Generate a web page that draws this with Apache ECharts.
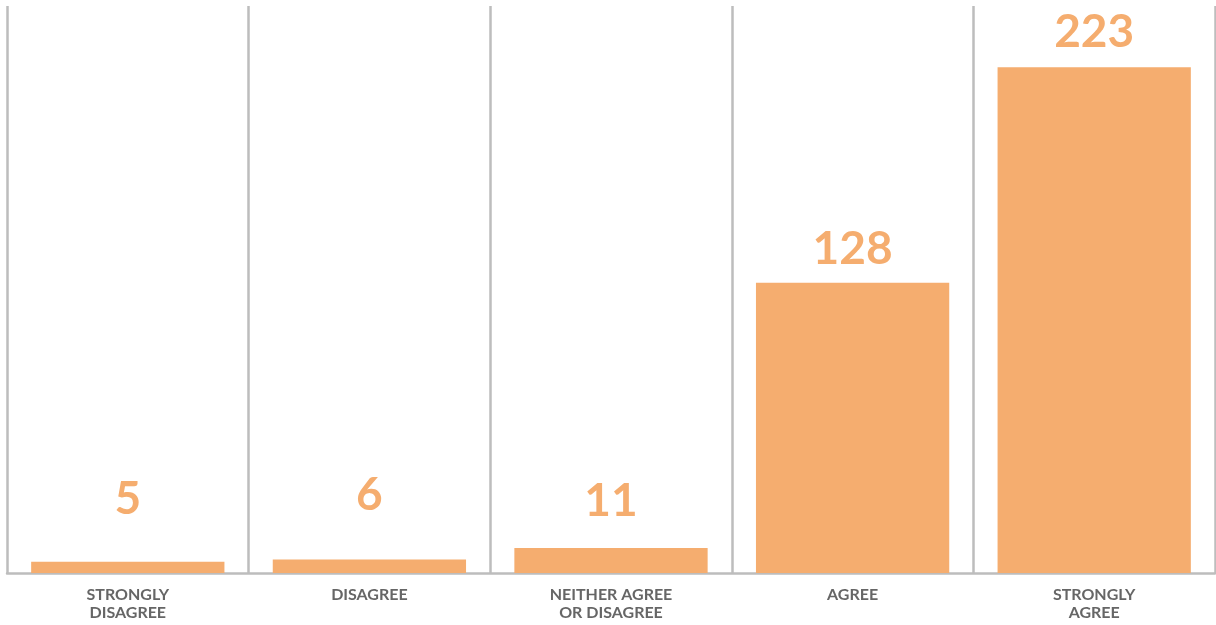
<!DOCTYPE html>
<html>
<head>
<meta charset="utf-8">
<script src="https://cdn.jsdelivr.net/npm/echarts@6/dist/echarts.min.js"></script>
<style>html,body{margin:0;padding:0;background:#fff}#c{width:1216px;height:625px}</style>
</head>
<body>
<div id="c"></div>
<script>
const categories = ['STRONGLY\nDISAGREE', 'DISAGREE', 'NEITHER AGREE\nOR DISAGREE', 'AGREE', 'STRONGLY\nAGREE'];
const values = [5, 6, 11, 128, 223];
// style only: gap between each value label and its bar
const labelGaps = [39, 41, 24, 11, 12];

const chart = echarts.init(document.getElementById('c'));
chart.setOption({
  animation: false,
  grid: { left: 7, right: 1, top: 6, bottom: 52, containLabel: false },
  xAxis: {
    type: 'category',
    data: categories,
    axisLine: { show: true, lineStyle: { color: '#bdbdbd', width: 2.5 } },
    axisTick: { show: false },
    splitLine: { show: true, lineStyle: { color: '#bdbdbd', width: 2.5 } },
    axisLabel: {
      color: '#666666', fontFamily: 'Lato', fontWeight: 'bold', fontSize: 16,
      lineHeight: 18, margin: 13
    }
  },
  yAxis: {
    type: 'value', min: 0, max: 250,
    show: false, splitLine: { show: false }
  },
  series: [{
    type: 'bar',
    data: values.map((v, i) => ({ value: v, label: { distance: labelGaps[i] } })),
    barCategoryGap: '20%',
    itemStyle: { color: '#F5AD6F' },
    label: {
      show: true, position: 'top',
      color: '#F5AD6F', fontFamily: 'Lato', fontWeight: 'bold', fontSize: 46
    }
  }]
});
</script>
</body>
</html>
